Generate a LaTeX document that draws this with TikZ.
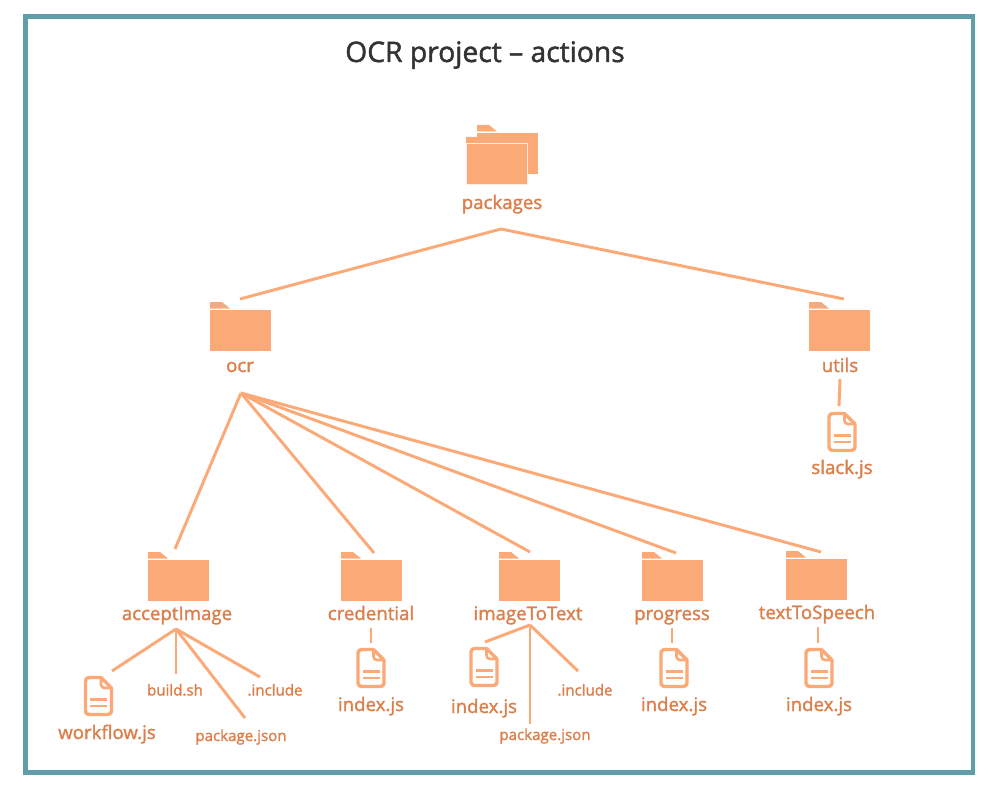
\documentclass[tikz,border=0pt]{standalone}
\usepackage{fontspec}
\setmainfont{Open Sans}
\newfontfamily\semifont{Open Sans}[FakeBold=1.6]
\definecolor{frameC}{HTML}{5F9EA8}
\definecolor{folderC}{HTML}{FCA978}
\definecolor{labelC}{HTML}{DC7F4B}
\definecolor{titleC}{HTML}{333333}
\tikzset{
  x=0.75pt,y=-0.75pt,
  conn/.style={draw=folderC,line width=2.2pt},
  lab/.style={text=labelC,font=\semifont\fontsize{14pt}{16pt}\selectfont,inner sep=0pt,anchor=base},
  smalllab/.style={text=labelC,font=\semifont\fontsize{11.3pt}{13pt}\selectfont,inner sep=0pt,anchor=base},
  ttl/.style={text=titleC,font=\semifont\fontsize{21.2pt}{24pt}\selectfont,inner sep=0pt,anchor=base},
  body/.style={fill=folderC,draw=none,inner sep=0pt,minimum width=45.75pt,minimum height=30.75pt,anchor=north west,outer sep=0pt},
  frontbody/.style={body,draw=white!80!folderC,line width=0.75pt},
  fileline/.style={draw=folderC,line width=2.6pt,line join=round,line cap=round},
}
\newcommand{\folderat}[3]{%
  \node[body] (#3) at (#1,#2) {};
  \fill[folderC] (#1,#2-8) -- (#1+12,#2-8) -- (#1+20,#2-1.5) -- (#1,#2-1.5) -- cycle;
}
\newcommand{\fileat}[3]{%
  \coordinate (#3) at (#1,#2);
  \draw[fileline,rounded corners=2.6pt] (#1+17,#2+1.5) -- (#1+1.5,#2+1.5) -- (#1+1.5,#2+38.5) -- (#1+27.5,#2+38.5) -- (#1+27.5,#2+12);
  \draw[fileline] (#1+17,#2+1.5) -- (#1+27.5,#2+12);
  \draw[fileline,line width=2pt,rounded corners=2.6pt] (#1+17,#2+1.5) -- (#1+17,#2+12) -- (#1+27.5,#2+12);
  \draw[fileline,line width=1.9pt,line cap=butt] (#1+6,#2+23.5) -- (#1+23,#2+23.5) (#1+6,#2+30) -- (#1+23,#2+30);
}
\begin{document}
\begin{tikzpicture}
\useasboundingbox (0,0) rectangle (1000,795);
\fill[white] (0,0) rectangle (1000,795);
\node[draw=frameC,line width=3.5pt,inner sep=0pt,outer sep=0pt,minimum width=710.6pt,minimum height=567pt,anchor=north west] (frame) at (25.5,16.5) {};
\node[ttl] (title) at (485,62) {OCR project – actions};

% packages
\folderat{477}{133}{backF}
\node[frontbody] (frontF) at (466,144) {};
\fill[folderC] (466,137) -- (478,137) -- (485,143) -- (466,143) -- cycle;
\node[lab] (packages) at (502,209) {packages};

% folders
\folderat{210}{310}{ocrF}      \node[lab] (ocr) at (240,372) {ocr};
\folderat{809}{310}{utilsF}    \node[lab] (utils) at (840,372) {utils};
\folderat{148}{560}{acceptF}   \node[lab] (accept) at (177,620) {acceptImage};
\folderat{341}{560}{credF}     \node[lab] (cred) at (371,620) {credential};
\folderat{499}{560}{imgF}      \node[lab] (img) at (528,620) {imageToText};
\folderat{642}{560}{progF}     \node[lab] (prog) at (672,620) {progress};
\folderat{786}{559}{ttsF}      \node[lab] (tts) at (817,619) {textToSpeech};

% files
\fileat{827.5}{412}{slackI}    \node[lab] (slack) at (842,474) {slack.js};
\fileat{84}{676}{workI}        \node[lab] (work) at (107,739) {workflow.js};
\fileat{356.5}{648}{credI}     \node[lab] (credjs) at (371,711) {index.js};
\fileat{469.5}{647}{imgI}      \node[lab] (imgjs) at (484,713) {index.js};
\fileat{659.5}{648}{progI}     \node[lab] (progjs) at (674,711) {index.js};
\fileat{804.5}{648}{ttsI}      \node[lab] (ttsjs) at (819,711) {index.js};
\node[smalllab] (build) at (175,695.5) {build.sh};
\node[smalllab] (incA) at (275,695.5) {.include};
\node[smalllab] (pkgA) at (241,741) {package.json};
\node[smalllab] (incB) at (585,695.5) {.include};
\node[smalllab] (pkgB) at (545,740) {package.json};

% connector anchors
\coordinate (pT) at (501,229);
\coordinate (ocrIn) at (240,299);
\coordinate (utilsIn) at (844,299);
\coordinate (ocrOut) at (241,393);
\coordinate (aIn) at (175,549);
\coordinate (cIn) at (374,553);
\coordinate (iIn) at (530,552);
\coordinate (gIn) at (676,553);
\coordinate (tIn) at (821,552);
\coordinate (uOut) at (840,379);
\coordinate (uEnd) at (839,406);
\coordinate (aOut) at (176,629);
\coordinate (a1) at (112,671);
\coordinate (a2) at (176,674);
\coordinate (a3) at (245,718);
\coordinate (a4) at (260,677);
\coordinate (cOut) at (371,628);
\coordinate (cEnd) at (371,643);
\coordinate (iOut) at (530,625);
\coordinate (i1) at (485,642);
\coordinate (i2) at (530,724);
\coordinate (i3) at (578,671);
\coordinate (gOut) at (672,628);
\coordinate (gEnd) at (672,643);
\coordinate (tOut) at (818,627);
\coordinate (tEnd) at (818,643);

\draw[conn] (ocrIn) -- (pT) -- (utilsIn);
\foreach \e in {aIn,cIn,iIn,gIn,tIn} \draw[conn] (ocrOut) -- (\e);
\draw[conn] (uOut) -- (uEnd);
\foreach \e in {a1,a2,a3,a4} \draw[conn] (aOut) -- (\e);
\draw[conn] (cOut) -- (cEnd);
\foreach \e in {i1,i2,i3} \draw[conn] (iOut) -- (\e);
\draw[conn] (gOut) -- (gEnd);
\draw[conn] (tOut) -- (tEnd);
\end{tikzpicture}
\end{document}
